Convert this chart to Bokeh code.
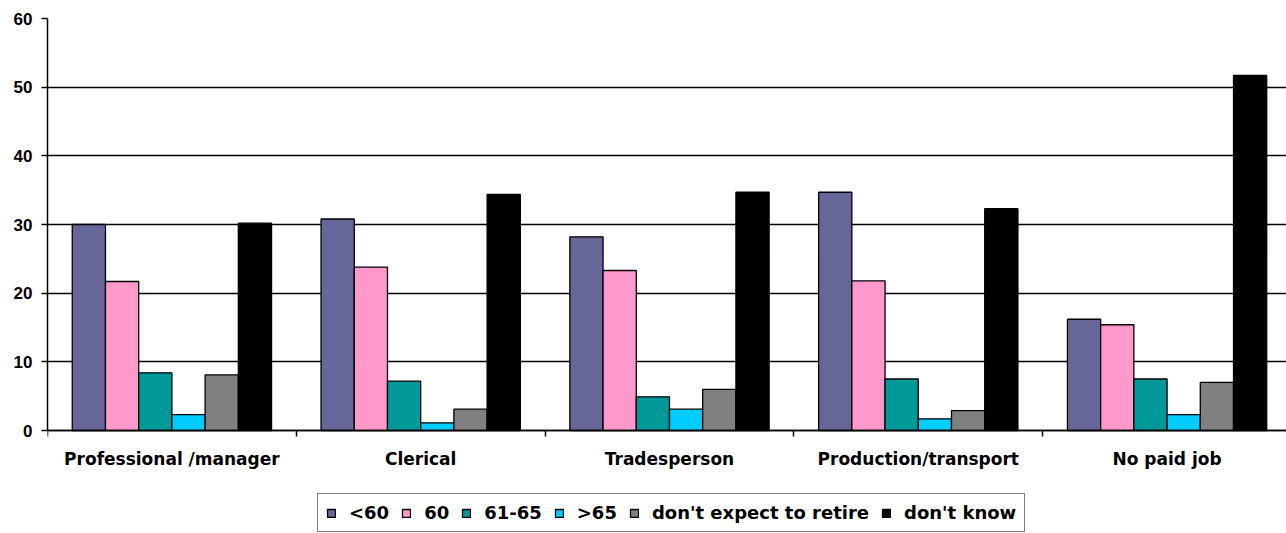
import numpy as np
from bokeh.plotting import figure
from bokeh.models import (ColumnDataSource, FixedTicker, Range1d, Legend, LegendItem,
                          LinearAxis)
from bokeh.embed import file_html
from bokeh.resources import INLINE

categories = ["Professional /manager", "Clerical", "Tradesperson",
              "Production/transport", "No paid job"]
series = ["<60", "60", "61-65", ">65", "don't expect to retire", "don't know"]
under_60 = [30.0, 30.8, 28.2, 34.7, 16.2]
at_60 = [21.7, 23.8, 23.3, 21.8, 15.4]
age_61_65 = [8.4, 7.2, 4.9, 7.5, 7.5]
over_65 = [2.3, 1.1, 3.1, 1.7, 2.3]
no_retire = [8.1, 3.1, 6.0, 2.9, 7.0]
dont_know = [30.2, 34.4, 34.7, 32.3, 51.7]
colors = ["#666699", "#FF99CC", "#009999", "#00CCFF", "#808080", "#000000"]
y_ticks = [0, 10, 20, 30, 40, 50, 60]

values = [under_60, at_60, age_61_65, over_65, no_retire, dont_know]

FONT = "Liberation Sans"
WIDE = "DejaVu Sans"
n_cat = len(categories)
centers = [2 * i + 1 for i in range(n_cat)]
bar_w = 0.267

p = figure(width=1286, height=533, output_backend="svg", toolbar_location=None,
           x_range=Range1d(0, 9.96), y_range=Range1d(-15.0, 60),
           x_axis_location=None,
           min_border_left=47, min_border_right=0, min_border_top=18,
           min_border_bottom=0)
p.outline_line_color = None
p.background_fill_color = "white"
p.border_fill_color = "white"

items = []
for j, (name, vals, col) in enumerate(zip(series, values, colors)):
    xs = [c + (j - 2.5) * bar_w for c in centers]
    src = ColumnDataSource(dict(x=xs, top=vals))
    r = p.vbar(x="x", top="top", bottom=0, width=bar_w, source=src,
               fill_color=col, line_color="black", line_width=1.3)
    items.append(LegendItem(label=name, renderers=[r]))

# grid
p.xgrid.visible = False
p.ygrid.ticker = FixedTicker(ticks=y_ticks)
p.ygrid.grid_line_color = "black"
p.ygrid.grid_line_width = 1.4
p.ygrid.level = "underlay"

# y axis
ya = p.yaxis[0]
ya.ticker = FixedTicker(ticks=y_ticks)
ya.bounds = (0, 60)
ya.axis_line_color = "black"
ya.axis_line_width = 1.5
ya.major_tick_out = 6
ya.major_tick_in = 0
ya.major_tick_line_width = 1.5
ya.minor_tick_line_color = None
ya.major_label_standoff = 9
ya.major_label_text_font = FONT
ya.major_label_text_font_style = "bold"
ya.major_label_text_font_size = "17px"
ya.major_label_text_color = "black"

# x axis, drawn at y = 0 so that the legend can sit below it inside the frame
xa = LinearAxis(fixed_location=0)
xa.ticker = FixedTicker(ticks=centers, minor_ticks=[2 * i for i in range(n_cat + 1)])
xa.major_label_overrides = {c: name for c, name in zip(centers, categories)}
xa.axis_line_color = "black"
xa.axis_line_width = 1.5
xa.major_tick_line_color = None
xa.major_tick_out = 0
xa.major_tick_in = 0
xa.minor_tick_line_color = "black"
xa.minor_tick_line_width = 1.5
xa.minor_tick_out = 6
xa.minor_tick_in = 0
xa.major_label_standoff = 12
xa.major_label_text_font = WIDE
xa.major_label_text_font_style = "bold"
xa.major_label_text_font_size = "17px"
xa.major_label_text_color = "black"
p.add_layout(xa, "below")

legend = Legend(items=items, orientation="horizontal", location=(270, 1),
                label_text_font=WIDE, label_text_font_style="bold",
                label_text_font_size="18px", label_text_color="black",
                glyph_width=10, glyph_height=10, label_standoff=13, spacing=12,
                padding=8, margin=0, label_height=16,
                border_line_color="black", border_line_width=1.5,
                background_fill_color="white", background_fill_alpha=1.0)
p.add_layout(legend, "center")

open("out.html", "w").write(file_html(p, INLINE))
